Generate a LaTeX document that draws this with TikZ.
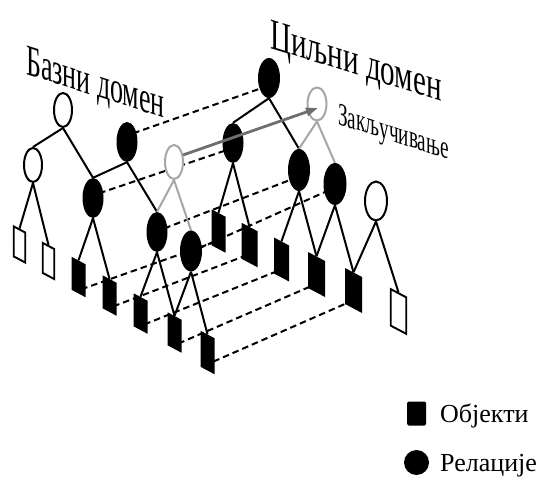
\documentclass[tikz,border=0pt]{standalone}
\usepackage{fontspec}
\setmainfont{Liberation Serif}
\usetikzlibrary{shapes.geometric,arrows.meta}
\pgfdeclarelayer{bg}
\pgfdeclarelayer{mid}
\pgfsetlayers{bg,mid,main}
\definecolor{graycirc}{HTML}{A6A6A6}
\definecolor{grayarrow}{HTML}{6E6E6E}
\begin{document}
\begin{tikzpicture}[x=1pt,y=-1pt,
  rel/.style={ellipse, fill=black, minimum width=21pt, minimum height=40pt, inner sep=0pt},
  orel/.style={ellipse, draw=black, fill=white, line width=2pt, minimum width=18pt, minimum height=34pt, inner sep=0pt},
  grel/.style={ellipse, draw=graycirc, fill=white, line width=2pt, minimum width=18pt, minimum height=34pt, inner sep=0pt},
  bobj/.style={rectangle, fill=black, minimum width=14pt, minimum height=33pt, inner sep=0pt, yslant=-0.53},
  tobj/.style={rectangle, fill=black, minimum width=16pt, minimum height=36pt, inner sep=0pt, yslant=-0.53},
  oobj/.style={rectangle, draw=black, fill=white, line width=1.9pt, minimum width=11.5pt, minimum height=30pt, inner sep=0pt, yslant=-0.53},
  tree/.style={line width=2pt},
  gtree/.style={line width=2pt, draw=graycirc},
  map/.style={line width=2pt, dash pattern=on 6.5pt off 4pt, shorten <=-4pt, shorten >=-4pt},
  garrow/.style={line width=2.8pt, draw=grayarrow, -{Triangle[length=12pt,width=8pt]}},
  dom/.style={inner sep=0pt, anchor=base west, font=\fontsize{44}{44}\selectfont},
  leg/.style={inner sep=0pt, anchor=base west, font=\fontsize{26}{26}\selectfont}
  ]
\useasboundingbox (0,0) rectangle (541,478);

% ---------- base domain ----------
\node[orel] (Broot) at (63,110) {};
\node[orel] (BL) at (33,165) {};
\node[rel] (BR) at (127,142) {};
\node[rel] (BM) at (93,198) {};
\node[grel] (Bg) at (174,162) {};
\node[rel] (BX) at (157,232) {};
\node[rel, minimum width=22pt, minimum height=41pt] (BY) at (191,251) {};
\node[oobj] (O1) at (19.5,244.5) {};
\node[oobj] (O2) at (48.5,261) {};
\node[bobj] (S1) at (78.5,277) {};
\node[bobj] (S2) at (109.5,295.5) {};
\node[bobj] (S3) at (140.5,313.5) {};
\node[bobj] (S4) at (174.5,332.5) {};
\node[bobj, minimum height=36pt] (S5) at (207.5,352.5) {};

% ---------- target domain ----------
\node[rel, minimum width=22pt] (Troot) at (269,78) {};
\node[grel, minimum width=19pt, minimum height=33pt] (Tg) at (317,104) {};
\node[rel] (Ta) at (233,143) {};
\node[rel, minimum width=22pt, minimum height=42pt] (Tb) at (299,170) {};
\node[rel, minimum width=23pt, minimum height=42pt] (Tc) at (335,184) {};
\node[orel, minimum width=22pt, minimum height=39pt] (TO) at (376,201) {};
\node[tobj, minimum width=14pt] (T1) at (218.5,231) {};
\node[tobj] (T2) at (249.5,245) {};
\node[tobj, minimum width=15pt] (T3) at (281.5,259.5) {};
\node[tobj, minimum width=17pt] (T4) at (316.5,274.5) {};
\node[tobj, minimum width=17pt] (T5) at (353.5,290.5) {};
\node[oobj, minimum width=15.5pt, minimum height=36.5pt] (O3) at (398.5,311.5) {};

% ---------- tree edges ----------
\begin{pgfonlayer}{mid}
\draw[tree] (Broot.south) -- (BL.north);
\draw[tree] (Broot.south) -- (BM.north);
\draw[tree] (BR.south) -- (BM.north);
\draw[tree] (BR.south) -- (BX.north);
\draw[gtree] (Bg.south) -- (BX.north);
\draw[gtree] (Bg.south) -- (BY.north);
\draw[tree] (BL.south) -- (O1.north);
\draw[tree] (BL.south) -- (O2.north);
\draw[tree] (BM.south) -- (S1.north);
\draw[tree] (BM.south) -- (S2.north);
\draw[tree] (BX.south) -- (S3.north);
\draw[tree] (BX.south) -- (S4.north);
\draw[tree] (BY.south) -- (S4.north);
\draw[tree] (BY.south) -- (S5.north);
\draw[tree] (Troot.south) -- (Ta.north);
\draw[tree] (Troot.south) -- (Tb.north);
\draw[gtree] (Tg.south) -- (Tb.north);
\draw[gtree] (Tg.south) -- (Tc.north);
\draw[tree] (Ta.south) -- (T1.north);
\draw[tree] (Ta.south) -- (T2.north);
\draw[tree] (Tb.south) -- (T3.north);
\draw[tree] (Tb.south) -- (T4.north);
\draw[tree] (Tc.south) -- (T4.north);
\draw[tree] (Tc.south) -- (T5.north);
\draw[tree] (TO.south) -- (T5.north);
\draw[tree] (TO.south) -- (O3.north);
\end{pgfonlayer}

% ---------- mapping lines ----------
\begin{pgfonlayer}{bg}
\draw[map] ([shift={(10,-10)}]BR.center) -- ([shift={(-10,11)}]Troot.center);
\draw[map] ([shift={(10,-6)}]BM.center) -- ([shift={(-9,8)}]Ta.center);
\draw[map] ([shift={(11,-5)}]BX.center) -- ([shift={(-9,10)}]Tb.center);
\draw[map] ([shift={(11,-4)}]BY.center) -- ([shift={(-10,8)}]Tc.center);
\draw[map] ([shift={(6.5,11)}]S1.center) -- ([shift={(-6.5,12)}]T1.center);
\draw[map] ([shift={(7.5,9.5)}]S2.center) -- ([shift={(-7.5,12)}]T2.center);
\draw[map] ([shift={(7.5,9.5)}]S3.center) -- ([shift={(-6.5,12.5)}]T3.center);
\draw[map] ([shift={(7.5,9.5)}]S4.center) -- ([shift={(-8.5,13)}]T4.center);
\draw[map] ([shift={(9.5,7.5)}]S5.center) -- ([shift={(-7.5,13)}]T5.center);
\end{pgfonlayer}

% ---------- inference arrow ----------
\draw[garrow] ([shift={(9,-7)}]Bg.center) -- ([shift={(1,4)}]Tg.center);

% ---------- labels ----------
\node[dom, yslant=-0.32, xscale=0.59] (lbase) at (26,74) {Базни домен};
\node[dom, yslant=-0.31, xscale=0.66] (ltarget) at (270,48) {Циљни домен};
\node[dom, font=\fontsize{32}{32}\selectfont, yslant=-0.32, xscale=0.6] (linfer) at (338,124) {Закључивање};

% ---------- legend ----------
\node[rectangle, fill=black, rounded corners=1.5pt, minimum width=19pt, minimum height=24pt, inner sep=0pt] (legobj) at (416.5,413.5) {};
\node[leg] (legobjt) at (440,422) {Објекти};
\node[circle, fill=black, minimum size=25pt, inner sep=0pt] (legrel) at (416.5,462.5) {};
\node[leg] (legrelt) at (440,471) {Релације};
\end{tikzpicture}
\end{document}
